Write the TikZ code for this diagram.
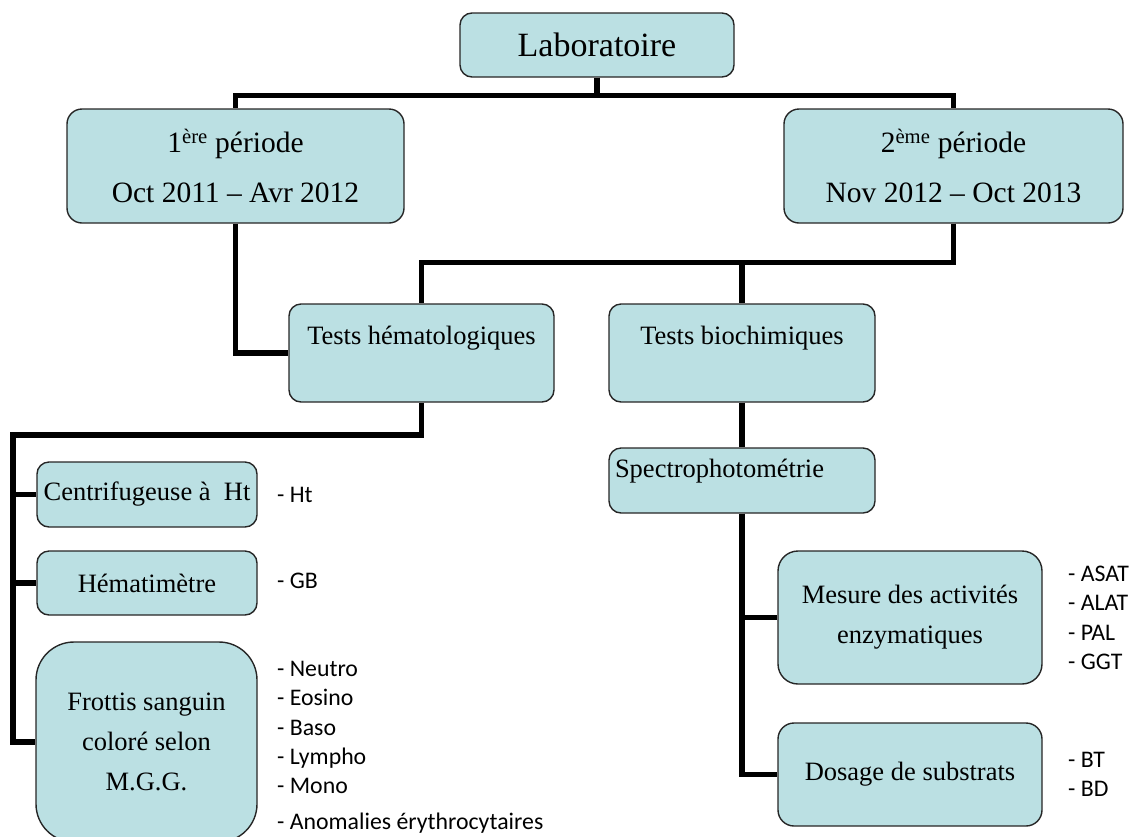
\documentclass[tikz,border=0pt]{standalone}
\usepackage{fontspec}
\setmainfont{Liberation Serif}
\newfontfamily\labelfont{Carlito}
\definecolor{cellfill}{RGB}{187,224,227}
\tikzset{
  cell/.style={draw=black!85, line width=1.4pt, fill=cellfill, rounded corners=12pt,
    inner sep=0pt, align=center, font=\fontsize{26.5}{40}\selectfont},
  link/.style={line width=5.5pt},
  items/.style={align=left, inner sep=0pt, font=\labelfont\fontsize{23.8}{29.3}\selectfont},
}

\begin{document}
\begin{tikzpicture}[x=1pt,y=-1pt]
  \useasboundingbox (0,0) rectangle (1131,836);
  % boxes
  \node[cell, minimum width=274pt, minimum height=64pt, font=\fontsize{34}{40}\selectfont] (lab) at (597,45) {Laboratoire};
  \node[cell, rounded corners=15pt, minimum width=337pt, minimum height=114pt, font=\fontsize{29.5}{50}\selectfont] (per1) at (235.5,166) {1\textsuperscript{ère} période\\Oct 2011 – Avr 2012};
  \node[cell, rounded corners=15pt, minimum width=339pt, minimum height=114pt, font=\fontsize{29.5}{50}\selectfont] (per2) at (953.5,166) {2\textsuperscript{ème} période\\Nov 2012 – Oct 2013};
  \node[cell, minimum width=265pt, minimum height=98pt, text height=40pt, text depth=58pt] (hemato) at (421.5,353) {Tests hématologiques};
  \node[cell, minimum width=266pt, minimum height=98pt, text height=40pt, text depth=58pt] (biochim) at (742,353) {Tests biochimiques};
  \node[cell, align=left, inner xsep=6pt, text width=254pt, minimum height=65pt, text height=29pt, text depth=36pt] (spectro) at (742,480.5) {Spectrophotométrie};
  \node[cell, minimum width=220pt, minimum height=65pt] (centri) at (147,494.5) {Centrifugeuse à\ \ Ht};
  \node[cell, minimum width=220pt, minimum height=64pt] (hemati) at (147,583) {Hématimètre};
  \node[cell, rounded corners=38pt, minimum width=221pt, minimum height=200pt] (frottis) at (146.5,742) {Frottis sanguin\\coloré selon\\M.G.G.};
  \node[cell, rounded corners=20pt, minimum width=264pt, minimum height=133pt] (mesure) at (910,617.5) {Mesure des activités\\enzymatiques};
  \node[cell, rounded corners=16pt, minimum width=264pt, minimum height=103pt] (dosage) at (910,774.5) {Dosage de substrats};

  % lists
  \node[items, anchor=base west] (ht) at (277,502) {- Ht};
  \node[items, anchor=base west] (gb) at (277,588) {- GB};
  \node[items, anchor=north west] (cells) at (277,661) {- Neutro\\- Eosino\\- Baso\\- Lympho\\- Mono\\[6.5pt]- Anomalies érythrocytaires};
  \node[items, anchor=north west] (enzymes) at (1068,566) {- ASAT\\- ALAT\\- PAL\\- GGT};
  \node[items, anchor=north west] (subst) at (1068,752) {- BT\\- BD};

  % links
  \coordinate (hbar) at (13,435);
  \draw[link] (lab.south) -- ++(0,18) -| (per1.north);
  \draw[link] (lab.south) -- ++(0,18) -| (per2.north);
  \draw[link] (per1.south) |- (hemato.west);
  \draw[link] (per2.south) -- ++(0,39) -| (hemato.north);
  \draw[link] (per2.south) -- ++(0,39) -| (biochim.north);
  \draw[link] (hemato.south) |- (hbar) |- (frottis.west);
  \draw[link] (hbar) |- (centri.west);
  \draw[link] (hbar) |- (hemati.west);
  \draw[link] (biochim.south) -- (spectro.north);
  \draw[link] (spectro.south) |- (mesure.west);
  \draw[link] (spectro.south) |- (dosage.west);
\end{tikzpicture}
\end{document}
